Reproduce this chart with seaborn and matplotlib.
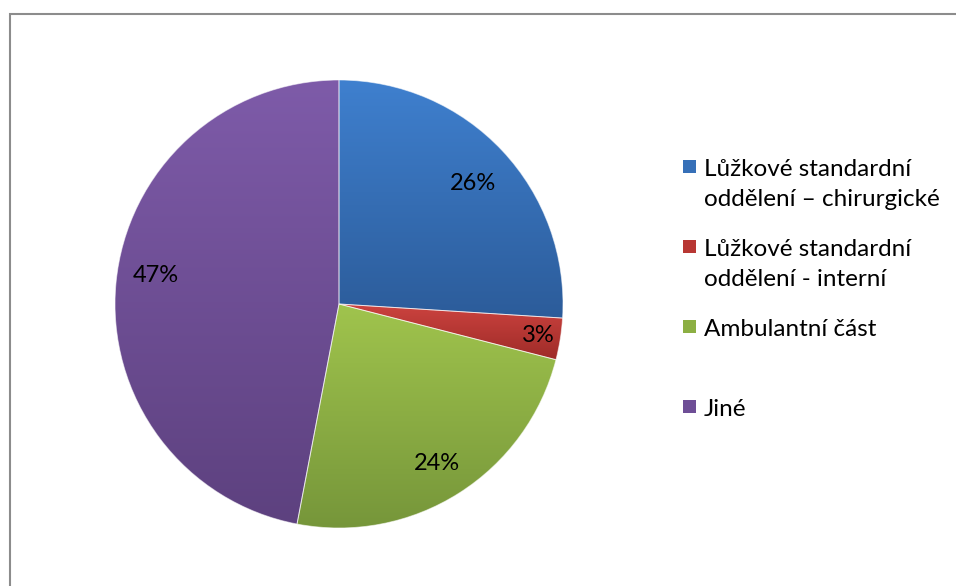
import numpy as np
import matplotlib
matplotlib.use("Agg")
import matplotlib.pyplot as plt
from matplotlib.patches import Rectangle
from matplotlib.colors import LinearSegmentedColormap
import seaborn as sns

# Data
categories = [
    "Lůžkové standardní\noddělení – chirurgické",
    "Lůžkové standardní\noddělení - interní",
    "Ambulantní část",
    "Jiné",
]
shares = [26, 3, 24, 47]

# Office-style gradient fills (top -> bottom)
top_colors = ["#3F80CF", "#CC433F", "#A0C44D", "#7E5BA9"]
bottom_colors = ["#2C5C9A", "#9E2B28", "#76963A", "#5D417F"]

sns.set_theme(style="white")
plt.rcParams["font.family"] = ["Lato", "DejaVu Sans"]

W, H = 956, 586
fig = plt.figure(figsize=(W / 100, H / 100), dpi=100)
fig.patch.set_facecolor("white")

# pie placement in pixels
cx, cy, r = 339, 304, 224
L = 1.02
ax = fig.add_axes([(cx - r * L) / W, (H - cy - r * L) / H, 2 * r * L / W, 2 * r * L / H])

wedges, texts, autotexts = ax.pie(
    shares,
    startangle=90,
    counterclock=False,
    radius=1,
    autopct=lambda p: f"{p:.0f}%",
    pctdistance=0.82,
    wedgeprops=dict(linewidth=0.7, edgecolor=(1, 1, 1, 0.55)),
    textprops=dict(fontsize=17, color="black"),
)
ax.set_aspect("equal")
ax.axis("off")

# vertical gradient inside each slice
grad = np.linspace(0, 1, 256).reshape(-1, 1)
for w, top, bot in zip(wedges, top_colors, bottom_colors):
    ext = w.get_path().get_extents()
    cmap = LinearSegmentedColormap.from_list("g", [bot, top])
    im = ax.imshow(grad, cmap=cmap, origin="lower", aspect="auto",
                   extent=(ext.x0, ext.x1, ext.y0, ext.y1), zorder=2,
                   interpolation="bilinear")
    im.set_clip_path(w)
    w.set_facecolor("none")
    w.set_zorder(3)

for t in autotexts:
    t.set_zorder(5)
# label placement tweaks: thin slice label further out, others nudged up
x, y = autotexts[1].get_position()
autotexts[1].set_position((x * 0.9 / 0.82, y * 0.9 / 0.82))
for idx, dy in ((0, -0.025), (2, -0.02), (3, 0.05)):
    x, y = autotexts[idx].get_position()
    autotexts[idx].set_position((x, y + dy))
ax.set_xlim(-L, L)
ax.set_ylim(-L, L)

# legend drawn on the figure
leg_x_box, leg_x_text = 683, 704
base0, step, line_gap = 176, 80, 30
mid_colors = ["#3670B8", "#B83733", "#8CAF43", "#6E4E96"]
for i, (lab, col) in enumerate(zip(categories, mid_colors)):
    yb = base0 + i * step
    fig.patches.append(Rectangle((leg_x_box / W, 1 - (yb - 3) / H), 13 / W, 13 / H,
                                 transform=fig.transFigure, facecolor=col,
                                 edgecolor="none"))
    for k, line in enumerate(lab.split("\n")):
        fig.text(leg_x_text / W, 1 - (yb + k * line_gap) / H, line,
                 fontsize=17.5, va="baseline", ha="left", color="black")

# chart area frame
fig.patches.append(Rectangle((9.5 / W, -0.05), 2, (H - 14.5) / H + 0.05,
                             transform=fig.transFigure, fill=False,
                             edgecolor="#8c8c8c", linewidth=1.5))

fig.savefig("out.png", dpi=100)
